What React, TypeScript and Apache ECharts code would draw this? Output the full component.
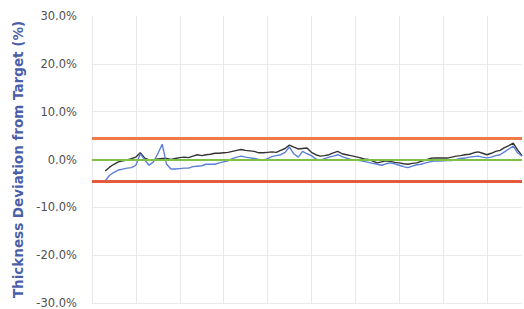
import React, { useEffect, useRef } from "react";
import * as echarts from "echarts";

const yTicks = [-30, -20, -10, 0, 10, 20, 30];
const upperLimit = 4.5;
const lowerLimit = -4.5;
const target = 0;

const blackSeries: (number | null)[] = [
  null, null, null, -2.4, -1.6, -1.0, -0.5, -0.3, -0.1, 0.2,
  0.5, 1.4, 0.3, -0.1, -0.1, 0.1, 0.2, 0.2, 0.0, 0.2,
  0.4, 0.5, 0.4, 0.7, 1.0, 0.8, 1.0, 1.1, 1.3, 1.3,
  1.4, 1.5, 1.7, 1.9, 2.1, 1.9, 1.8, 1.7, 1.4, 1.4,
  1.5, 1.6, 1.5, 1.9, 2.3, 3.0, 2.6, 2.2, 2.3, 2.4,
  1.5, 1.0, 0.7, 0.8, 1.0, 1.4, 1.7, 1.2, 1.0, 0.8,
  0.6, 0.4, 0.1, 0.0, -0.35, -0.7, -0.5, -0.3, -0.4, -0.6,
  -0.7, -0.9, -1.0, -0.8, -0.7, -0.4, -0.1, 0.2, 0.35, 0.3,
  0.35, 0.3, 0.5, 0.7, 0.8, 1.0, 1.1, 1.4, 1.6, 1.3,
  1.0, 1.3, 1.7, 1.9, 2.5, 2.9, 3.4, 2.0, 0.8,
];

const blueSeries: (number | null)[] = [
  null, null, null, -4.5, -3.3, -2.7, -2.2, -2.0, -1.8, -1.7,
  -1.2, 1.2, 0.0, -1.2, -0.5, 1.2, 3.2, -1.0, -2.0, -2.0,
  -1.9, -1.8, -1.8, -1.5, -1.4, -1.3, -1.0, -1.0, -1.0, -0.7,
  -0.5, -0.3, 0.2, 0.5, 0.7, 0.5, 0.35, 0.2, 0.0, -0.2,
  0.2, 0.6, 0.8, 1.0, 1.5, 2.6, 1.2, 0.5, 1.7, 1.2,
  0.8, 0.1, -0.2, 0.2, 0.5, 0.7, 1.0, 0.6, 0.3, 0.0,
  -0.1, -0.2, -0.4, -0.6, -0.8, -1.0, -1.2, -0.9, -0.7, -0.9,
  -1.2, -1.5, -1.7, -1.4, -1.1, -1.0, -0.7, -0.5, -0.35, -0.3,
  -0.25, -0.2, -0.2, 0.0, 0.2, 0.3, 0.5, 0.6, 0.7, 0.5,
  0.35, 0.5, 0.8, 1.0, 1.6, 2.2, 2.8, 1.4, 0.7,
];

const categories = blackSeries.map((_, i) => String(i));

export default function App() {
  const ref = useRef<HTMLDivElement>(null);
  useEffect(() => {
    if (!ref.current) return;
    const chart = echarts.init(ref.current, undefined, { renderer: "svg" });
    chart.setOption({
      animation: false,
      grid: { left: 92, right: 2, top: 16, bottom: 5, containLabel: false },
      xAxis: {
        type: "category",
        data: categories,
        boundaryGap: false,
        axisLine: { show: false },
        axisTick: { show: false },
        axisLabel: { show: false },
        splitLine: {
          show: true,
          interval: (i: number) => i % 10 === 0,
          lineStyle: { color: "#e6e8ee", width: 1 },
        },
      },
      yAxis: {
        type: "value",
        min: yTicks[0],
        max: yTicks[yTicks.length - 1],
        interval: 10,
        name: "Thickness Deviation from Target (%)",
        nameLocation: "middle",
        nameGap: 57,
        nameTextStyle: {
          color: "#4a5fa8",
          fontFamily: "DejaVu Sans",
          fontWeight: "bold",
          fontSize: 13.5,
        },
        axisLine: { show: false },
        axisTick: { show: false },
        axisLabel: {
          color: "#505050",
          fontFamily: "DejaVu Sans",
          fontSize: 11.5,
          margin: 15,
          formatter: (v: number) => v.toFixed(1) + "%",
        },
        splitLine: {
          show: true,
          showMaxLine: false,
          lineStyle: { color: "#eaeaea", width: 1 },
        },
      },
      series: [
        {
          type: "line",
          data: blackSeries,
          showSymbol: false,
          symbol: "none",
          lineStyle: { color: "#333333", width: 1.4 },
          z: 3,
          markLine: {
            silent: true,
            symbol: "none",
            label: { show: false },
            data: [
              { yAxis: upperLimit, lineStyle: { color: "#ee7a46", width: 3, type: "solid" } },
              { yAxis: lowerLimit, lineStyle: { color: "#e35a3c", width: 3, type: "solid" } },
              { yAxis: target, lineStyle: { color: "#7dc243", width: 2, type: "solid" } },
            ],
          },
        },
        {
          type: "line",
          data: blueSeries,
          showSymbol: false,
          symbol: "none",
          lineStyle: { color: "#5b7fd8", width: 1.4 },
          z: 4,
        },
      ],
    });
    return () => chart.dispose();
  }, []);
  return <div ref={ref} style={{ width: 524, height: 309, position: "absolute", left: 0, top: 0 }} />;
}
